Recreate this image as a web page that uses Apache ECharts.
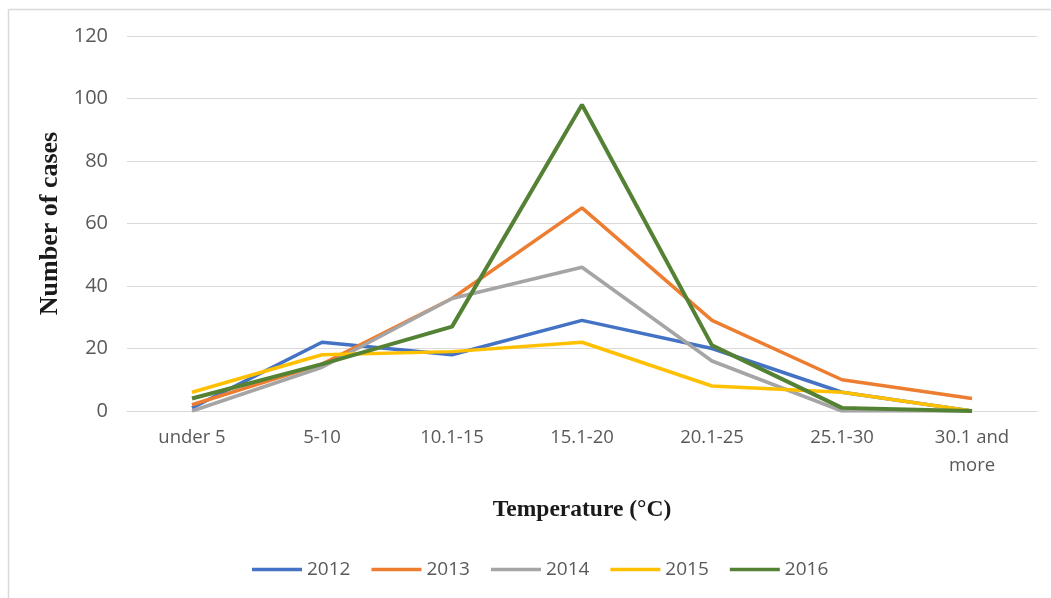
<!DOCTYPE html>
<html>
<head>
<meta charset="utf-8">
<script src="https://cdn.jsdelivr.net/npm/echarts@6/dist/echarts.min.js"></script>
<style>html,body{margin:0;padding:0;background:#fff}#c{width:1051px;height:598px}</style>
</head>
<body>
<div id="c"></div>
<script>
const categories = ['under 5', '5-10', '10.1-15', '15.1-20', '20.1-25', '25.1-30', '30.1 and\nmore'];
const yTicks = [0, 20, 40, 60, 80, 100, 120];
const years = ['2012', '2013', '2014', '2015', '2016'];
const s2012 = [1, 22, 18, 29, 20, 6, 0];
const s2013 = [2, 15, 36, 65, 29, 10, 4];
const s2014 = [0, 14, 36, 46, 16, 0, 0];
const s2015 = [6, 18, 19, 22, 8, 6, 0];
const s2016 = [4, 15, 27, 98, 21, 1, 0];
const colors = ['#4472C4', '#ED7D31', '#A5A5A5', '#FFC000', '#548235'];
const widths = [3.5, 3.5, 3.5, 3.5, 4];
const seriesData = [s2012, s2013, s2014, s2015, s2016];

const chart = echarts.init(document.getElementById('c'));
chart.setOption({
  animation: false,
  backgroundColor: '#fff',
  graphic: [
    { type: 'line', shape: { x1: 8.5, y1: 9.5, x2: 1051, y2: 9.5 }, style: { stroke: '#d9d9d9', lineWidth: 1.5 } },
    { type: 'line', shape: { x1: 8.5, y1: 9.5, x2: 8.5, y2: 598 }, style: { stroke: '#d9d9d9', lineWidth: 1.5 } }
  ],
  grid: { left: 127, right: 14, top: 36, bottom: 187, containLabel: false },
  legend: {
    data: years,
    top: 555,
    left: 247,
    icon: 'rect',
    itemWidth: 50,
    itemHeight: 3.5,
    itemGap: 21,
    textStyle: { fontFamily: 'Open Sans', fontSize: 19, color: '#595959' }
  },
  xAxis: {
    type: 'category',
    data: categories,
    boundaryGap: true,
    name: 'Temperature (°C)',
    nameLocation: 'middle',
    nameGap: 87,
    nameTextStyle: { fontFamily: 'Liberation Serif', fontWeight: 'bold', fontSize: 23.5, color: '#1a1a1a' },
    axisLine: { show: true, lineStyle: { color: '#d9d9d9', width: 1 } },
    axisTick: { show: false },
    axisLabel: { fontFamily: 'Open Sans', fontSize: 18.5, color: '#595959', margin: 13, lineHeight: 28, interval: 0 }
  },
  yAxis: {
    type: 'value',
    min: yTicks[0],
    max: yTicks[yTicks.length - 1],
    interval: 20,
    name: 'Number of cases',
    nameLocation: 'middle',
    nameGap: 47,
    nameTextStyle: { fontFamily: 'Liberation Serif', fontWeight: 'bold', fontSize: 26, color: '#1a1a1a' },
    axisLine: { show: false },
    axisTick: { show: false },
    axisLabel: { fontFamily: 'Open Sans', fontSize: 20, color: '#595959', margin: 19 },
    splitLine: { lineStyle: { color: '#d9d9d9', width: 1 } }
  },
  series: years.map((y, i) => ({
    name: y,
    type: 'line',
    data: seriesData[i],
    symbol: 'none',
    color: colors[i],
    lineStyle: { color: colors[i], width: widths[i] },
    z: 2 + i
  }))
});
</script>
</body>
</html>
